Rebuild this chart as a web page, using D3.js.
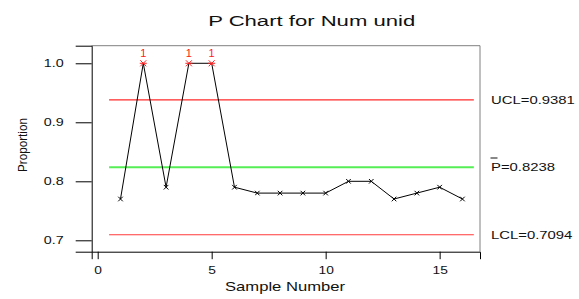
<!DOCTYPE html>
<html><head><meta charset="utf-8">
<script src="https://cdn.jsdelivr.net/npm/d3@7"></script>
<style>body{margin:0;background:#fff}svg{display:block;font-family:"Liberation Sans",Arial,sans-serif}</style>
</head><body><svg id="c" width="579" height="299"></svg>
<script>
const samples = [1,2,3,4,5,6,7,8,9,10,11,12,13,14,15,16];
const proportions = [0.77,1.0,0.79,1.0,1.0,0.79,0.78,0.78,0.78,0.78,0.80,0.80,0.77,0.78,0.79,0.77];
const outOfControl = [2,4,5];
const UCL = 0.9381, PBAR = 0.8238, LCL = 0.7094;
const xTicks = [0,5,10,15];
const yTicks = [0.7,0.8,0.9,1.0];
const limitLabels = ["UCL=0.9381","P=0.8238","LCL=0.7094"];

const svg = d3.select("#c");
const L=91.7, R=480, T=45.7, B=251.7;
const x = d3.scaleLinear().domain([-0.263,16.77]).range([L,R]);
const y = d3.scaleLinear().domain([0.6807,1.0298]).range([B,T]);

function stretch(sel, target){
  sel.each(function(){
    const len = this.getComputedTextLength();
    const t = typeof target==="function"? target(len): target;
    d3.select(this).attr("textLength",t).attr("lengthAdjust","spacingAndGlyphs");
  });
}

// frame
svg.append("line").attr("x1",L).attr("x2",R).attr("y1",T).attr("y2",T).attr("stroke","#808080");
svg.append("line").attr("x1",R).attr("x2",R).attr("y1",T).attr("y2",B).attr("stroke","#808080");

// axes
const yAxis = svg.append("g").attr("transform",`translate(${L},0)`)
  .call(d3.axisLeft(y).tickValues(yTicks).tickFormat(d3.format(".1f")).tickSizeOuter(0).tickSize(16).tickPadding(12));
yAxis.select(".domain").attr("stroke","#000");
yAxis.selectAll("text").attr("font-size",11).attr("font-family","Liberation Sans, Arial").attr("fill","#111");
yAxis.selectAll("text").call(stretch, l=>l*1.3);

const xAxis = svg.append("g").attr("transform",`translate(0,${B})`)
  .call(d3.axisBottom(x).tickValues(xTicks).tickFormat(d3.format("d")).tickSizeOuter(0).tickSize(7.5).tickPadding(7));
xAxis.select(".domain").attr("stroke","#000");
xAxis.selectAll("text").attr("font-size",11).attr("font-family","Liberation Sans, Arial").attr("fill","#111");
xAxis.selectAll("text").call(stretch, l=>l*1.25);

// limit lines
const limits = [{v:UCL,c:"#ff2a2a",w:1.2},{v:PBAR,c:"#55ee55",w:1.8},{v:LCL,c:"#ff3a3a",w:1.2}];
svg.selectAll(".lim").data(limits).join("line").attr("class","lim")
  .attr("x1",x(0.5)).attr("x2",x(16.5)).attr("y1",d=>y(d.v)).attr("y2",d=>y(d.v))
  .attr("stroke",d=>d.c).attr("stroke-width",d=>d.w);

// data line
const pts = samples.map((s,i)=>({s,p:proportions[i],out:outOfControl.includes(s)}));
svg.append("path").datum(pts)
  .attr("d",d3.line().x(d=>x(d.s)).y(d=>y(d.p)))
  .attr("fill","none").attr("stroke","#000").attr("stroke-width",1);

// markers
const m = svg.selectAll(".mk").data(pts).join("g").attr("class","mk")
  .attr("transform",d=>`translate(${x(d.s)},${y(d.p)})`);
m.append("path").attr("d",d=>d.out?"M-3,-3L3,3M-3,3L3,-3M-3.5,0L3.5,0":"M-2.3,-2.3L2.3,2.3M-2.3,2.3L2.3,-2.3")
  .attr("stroke",d=>d.out?"#ff2020":"#000").attr("stroke-width",1);
m.filter(d=>d.out).append("text").attr("y",-6).attr("text-anchor","middle")
  .attr("font-size",11).attr("fill","#ff2020").text("1");

// right labels
const labs = svg.selectAll(".rl").data(limits).join("text").attr("class","rl")
  .attr("x",491).attr("y",(d)=>y(d.v)+4).attr("font-size",11).attr("fill","#111")
  .text((d,i)=>limitLabels[i]);
labs.call(stretch,(l)=>l*1.35);
svg.append("line").attr("x1",490.5).attr("x2",497.5).attr("y1",158).attr("y2",158).attr("stroke","#111");

// title & axis labels
svg.append("text").attr("x",311.7).attr("y",26).attr("text-anchor","middle")
  .attr("font-size",15.5).attr("fill","#111").text("P Chart for Num unid").call(stretch,207);
svg.append("text").attr("x",285).attr("y",290.5).attr("text-anchor","middle")
  .attr("font-size",13).attr("fill","#111").text("Sample Number").call(stretch,120);
svg.append("text").attr("transform","translate(27,145) rotate(-90)").attr("text-anchor","middle")
  .attr("font-size",12.5).attr("fill","#111").text("Proportion").call(stretch,54);
</script></body></html>
